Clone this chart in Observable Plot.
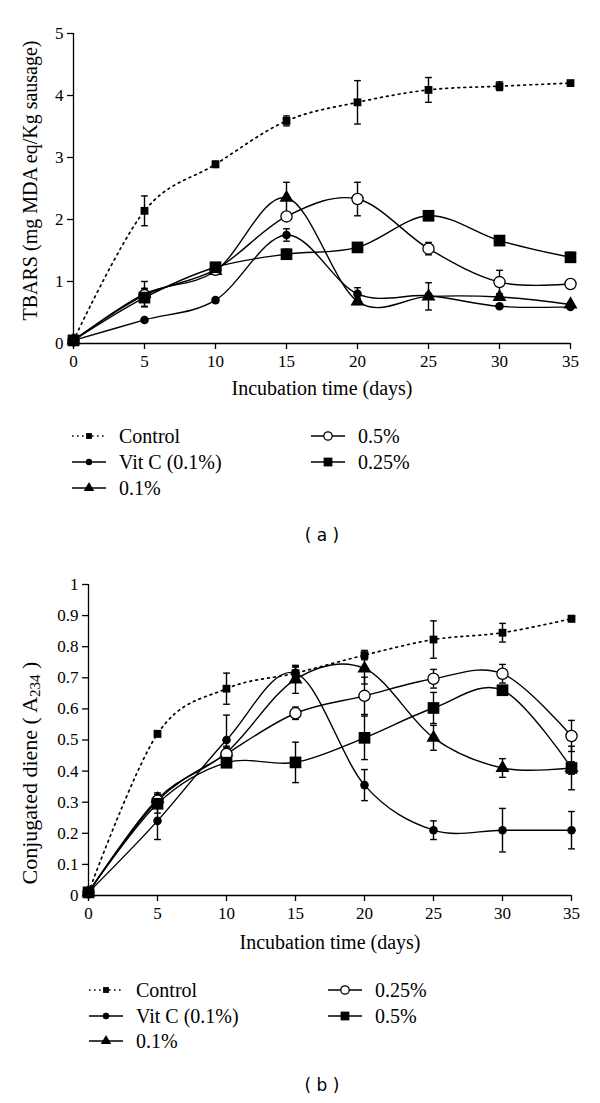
<!DOCTYPE html>
<html>
<head>
<meta charset="utf-8">
<script src="https://cdn.jsdelivr.net/npm/d3@7"></script>
<script src="https://cdn.jsdelivr.net/npm/@observablehq/plot@0.6"></script>
<style>
  html, body { margin: 0; padding: 0; background: #fff; }
  #root { position: relative; width: 600px; height: 1103px; background: #fff; overflow: hidden; font-family: "Liberation Serif", serif; color: #000; }
  .panel { position: absolute; left: 0; }
  .panel svg text { font-family: "Liberation Serif", serif; }
  .leg { position: absolute; display: flex; align-items: center; font-size: 20px; line-height: 20px; white-space: nowrap; }
  .leg svg { display: block; }
  .cap { position: absolute; font-family: "DejaVu Sans", sans-serif; font-size: 17px; transform: translate(-50%, -50%); white-space: pre; }
</style>
</head>
<body>
<div id="root"></div>
<script>
// ---------- DATA ----------
const days = [0, 5, 10, 15, 20, 25, 30, 35];

// Panel (a): TBARS
const seriesA = ["Control", "Vit C (0.1%)", "0.1%", "0.5%", "0.25%"];
const tbarsControl = [0.05, 2.14, 2.89, 3.59, 3.89, 4.09, 4.15, 4.20];
const tbarsVitC    = [0.05, 0.38, 0.70, 1.75, 0.80, 0.77, 0.60, 0.59];
const tbars01      = [0.05, 0.80, 1.17, 2.35, 0.68, 0.76, 0.75, 0.63];
const tbars05      = [0.05, 0.78, 1.19, 2.05, 2.33, 1.53, 0.99, 0.96];
const tbars025     = [0.05, 0.74, 1.23, 1.44, 1.55, 2.06, 1.66, 1.39];
const tbarsControlErr = [0, 0.24, 0.05, 0.08, 0.35, 0.20, 0.07, 0.03];
const tbarsVitCErr    = [0, 0.03, 0.03, 0.10, 0.10, 0.00, 0.02, 0.02];
const tbars01Err      = [0, 0.20, 0.05, 0.25, 0.05, 0.22, 0.05, 0.03];
const tbars05Err      = [0, 0.10, 0.05, 0.05, 0.27, 0.10, 0.19, 0.05];
const tbars025Err     = [0, 0.15, 0.05, 0.08, 0.03, 0.05, 0.04, 0.08];
const tbarsTicks = [0, 1, 2, 3, 4, 5];

// Panel (b): conjugated diene
const seriesB = ["Control", "Vit C (0.1%)", "0.1%", "0.25%", "0.5%"];
const cdControl = [0.01, 0.52, 0.665, 0.715, 0.773, 0.823, 0.845, 0.89];
const cdVitC    = [0.01, 0.24, 0.50, 0.715, 0.355, 0.21, 0.21, 0.21];
const cd01      = [0.01, 0.31, 0.46, 0.695, 0.73, 0.507, 0.41, 0.41];
const cd025     = [0.01, 0.305, 0.455, 0.586, 0.642, 0.697, 0.713, 0.513];
const cd05      = [0.01, 0.295, 0.427, 0.428, 0.507, 0.603, 0.66, 0.41];
const cdControlErr = [0, 0.01, 0.05, 0.02, 0.015, 0.06, 0.03, 0.01];
const cdVitCErr    = [0, 0.06, 0.08, 0.02, 0.05, 0.03, 0.07, 0.06];
const cd01Err      = [0, 0.02, 0.02, 0.045, 0.05, 0.04, 0.03, 0.02];
const cd025Err     = [0, 0.02, 0.02, 0.02, 0.06, 0.03, 0.03, 0.05];
const cd05Err      = [0, 0.03, 0.015, 0.065, 0.07, 0.05, 0.01, 0.07];
const cdTicks = [0, 0.1, 0.2, 0.3, 0.4, 0.5, 0.6, 0.7, 0.8, 0.9, 1];

// ---------- HELPERS ----------
const FONT = "Liberation Serif";
function longForm(names, values, errors) {
  return names.flatMap((n, i) => days.map((d, j) => ({series: n, x: d, y: values[i][j], e: errors[i][j]})));
}
const capSymbol = { draw(ctx, size) { const w = Math.sqrt(size); ctx.moveTo(-w / 2, 0); ctx.lineTo(w / 2, 0); } };
const markerStyle = {
  smallSquare: {symbol: "square", r: 4.4, fill: "black", stroke: "none"},
  bigSquare:   {symbol: "square", r: 6.6, fill: "black", stroke: "none"},
  dot:         {symbol: "circle", r: 4.3, fill: "black", stroke: "none"},
  triangle:    {symbol: "triangle", r: 5.2, fill: "black", stroke: "none"},
  open:        {symbol: "circle", r: 5.6, fill: "white", stroke: "black", strokeWidth: 1.3}
};

function panel({data, names, kinds, yDomain, yTicks, yFormat, height, margins, titleDy, yLabel}) {
  const marks = [];
  marks.push(Plot.ruleY([yDomain[0]], {stroke: "black", strokeWidth: 1.3}));
  marks.push(Plot.ruleX([0], {stroke: "black", strokeWidth: 1.3}));
  marks.push(Plot.axisX({ticks: days, tickSize: 6, tickPadding: 5, fontSize: 17, fontFamily: FONT, label: null, strokeWidth: 1.3}));
  marks.push(Plot.axisY({ticks: yTicks, tickSize: 6, tickPadding: 4, fontSize: 17, fontFamily: FONT, label: null, tickFormat: yFormat, strokeWidth: 1.3}));
  marks.push(Plot.line(data.filter(d => d.series === names[0]), {x: "x", y: "y", curve: "cardinal", stroke: "black", strokeWidth: 1.7, strokeDasharray: "1.8,4.2"}));
  marks.push(Plot.line(data.filter(d => d.series !== names[0]), {x: "x", y: "y", z: "series", curve: "cardinal", stroke: "black", strokeWidth: 1.4}));
  const eb = data.filter(d => d.e > 0);
  marks.push(Plot.ruleX(eb, {x: "x", y1: d => d.y - d.e, y2: d => d.y + d.e, stroke: "black", strokeWidth: 1.4}));
  marks.push(Plot.dot(eb, {x: "x", y: d => d.y + d.e, symbol: capSymbol, r: 3.8, stroke: "black", strokeWidth: 1.4, fill: "none"}));
  marks.push(Plot.dot(eb, {x: "x", y: d => d.y - d.e, symbol: capSymbol, r: 3.8, stroke: "black", strokeWidth: 1.4, fill: "none"}));
  names.forEach((n, i) => {
    marks.push(Plot.dot(data.filter(d => d.series === n), {x: "x", y: "y", ...markerStyle[kinds[i]]}));
  });
  marks.push(Plot.text(["Incubation time (days)"], {frameAnchor: "bottom", dy: titleDy, fontSize: 20, fontFamily: FONT, lineAnchor: "middle", textAnchor: "middle", fill: "black"}));
  if (yLabel) marks.push(Plot.text([yLabel.text], {frameAnchor: "left", rotate: -90, dx: yLabel.dx, dy: yLabel.dy, fontSize: 20, fontFamily: FONT, lineAnchor: "middle", textAnchor: "middle", fill: "black"}));
  return Plot.plot({
    width: 600, height,
    marginTop: margins[0], marginRight: margins[1], marginBottom: margins[2], marginLeft: margins[3],
    x: {domain: [0, 35]}, y: {domain: yDomain},
    style: {fontFamily: "'Liberation Serif', serif", fontSize: "17px", color: "black", background: "white", overflow: "visible"},
    marks
  });
}

function legendSymbol(kind, dashed) {
  const svg = d3.create("svg").attr("width", 34).attr("height", 16);
  svg.append("line").attr("x1", 0).attr("x2", 34).attr("y1", 8).attr("y2", 8)
    .attr("stroke", "black").attr("stroke-width", dashed ? 1.6 : 1.4)
    .attr("stroke-dasharray", dashed ? "1.6,3.4" : null);
  const m = markerStyle[kind];
  const sym = {square: d3.symbolSquare, circle: d3.symbolCircle, triangle: d3.symbolTriangle}[m.symbol];
  const r = m.r * 0.75;
  svg.append("path").attr("transform", "translate(17,8)")
    .attr("d", d3.symbol(sym, Math.PI * r * r)())
    .attr("fill", m.fill).attr("stroke", m.stroke).attr("stroke-width", m.strokeWidth || null);
  return svg.node();
}

function addLegend(root, names, kinds, cols, rows) {
  names.forEach((n, i) => {
    const c = i < 3 ? 0 : 1, r = i < 3 ? i : i - 3;
    const div = document.createElement("div");
    div.className = "leg";
    div.style.left = cols[c] + "px";
    div.style.top = (rows[r] - 10) + "px";
    div.appendChild(legendSymbol(kinds[i], i === 0));
    const span = document.createElement("span");
    span.textContent = n;
    span.style.marginLeft = "13px";
    div.appendChild(span);
    root.appendChild(div);
  });
}

const root = document.getElementById("root");

// ---------- PANEL A ----------
const kindsA = ["smallSquare", "dot", "triangle", "open", "bigSquare"];
const dataA = longForm(seriesA, [tbarsControl, tbarsVitC, tbars01, tbars05, tbars025],
  [tbarsControlErr, tbarsVitCErr, tbars01Err, tbars05Err, tbars025Err]);
const plotA = panel({
  data: dataA, names: seriesA, kinds: kindsA,
  yDomain: [0, 5], yTicks: tbarsTicks, yFormat: d => String(d),
  height: 400, margins: [33, 30, 57, 73], titleDy: 45,
  yLabel: {text: "TBARS (mg MDA eq/Kg sausage)", dx: -43, dy: -8}
});
const wrapA = document.createElement("div"); wrapA.className = "panel"; wrapA.style.top = "0px";
wrapA.appendChild(plotA); root.appendChild(wrapA);
addLegend(root, seriesA, kindsA, [72, 311], [436, 462, 488]);
const capA = document.createElement("div"); capA.className = "cap"; capA.textContent = "( a )";
capA.style.left = "322px"; capA.style.top = "535px"; root.appendChild(capA);

// ---------- PANEL B ----------
const kindsB = ["smallSquare", "dot", "triangle", "open", "bigSquare"];
const dataB = longForm(seriesB, [cdControl, cdVitC, cd01, cd025, cd05],
  [cdControlErr, cdVitCErr, cd01Err, cd025Err, cd05Err]);
const plotB = panel({
  data: dataB, names: seriesB, kinds: kindsB,
  yDomain: [0, 1], yTicks: cdTicks, yFormat: d => String(+d.toFixed(1)),
  height: 400, margins: [24, 29, 65, 88], titleDy: 47, yLabel: null
});
const lab = d3.select(plotB).append("text").attr("transform", "translate(32,213) rotate(-90)")
  .attr("text-anchor", "middle").attr("dominant-baseline", "middle")
  .attr("font-size", 22).style("font-family", "'Liberation Serif', serif").attr("fill", "black");
lab.append("tspan").text("Conjugated diene ( A");
lab.append("tspan").attr("font-size", 15).attr("dy", 5).text("234");
lab.append("tspan").attr("dy", -5).text(" )");
const wrapB = document.createElement("div"); wrapB.className = "panel"; wrapB.style.top = "560px";
wrapB.appendChild(plotB); root.appendChild(wrapB);
addLegend(root, seriesB, kindsB, [89, 328], [990, 1016, 1041]);
const capB = document.createElement("div"); capB.className = "cap"; capB.textContent = "( b )";
capB.style.left = "322px"; capB.style.top = "1085px"; root.appendChild(capB);
</script>
</body>
</html>
